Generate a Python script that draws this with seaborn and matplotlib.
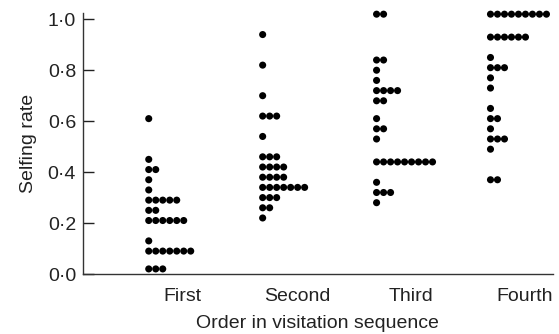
import matplotlib
matplotlib.use("Agg")
import matplotlib.pyplot as plt
import seaborn as sns
import pandas as pd

# selfing rate, one entry per flower
first = [0.61, 0.45, 0.41, 0.41, 0.37, 0.33,
         0.29, 0.29, 0.29, 0.29, 0.29, 0.25, 0.25,
         0.21, 0.21, 0.21, 0.21, 0.21, 0.21, 0.13,
         0.09, 0.09, 0.09, 0.09, 0.09, 0.09, 0.09,
         0.02, 0.02, 0.02]
second = [0.94, 0.82, 0.70, 0.62, 0.62, 0.62, 0.54,
          0.46, 0.46, 0.46, 0.42, 0.42, 0.42, 0.42,
          0.38, 0.38, 0.38, 0.38,
          0.34, 0.34, 0.34, 0.34, 0.34, 0.34, 0.34,
          0.30, 0.30, 0.30, 0.26, 0.26, 0.22]
third = [1.02, 1.02, 0.84, 0.84, 0.80, 0.76,
         0.72, 0.72, 0.72, 0.72, 0.68, 0.68, 0.61, 0.57, 0.57, 0.53,
         0.44, 0.44, 0.44, 0.44, 0.44, 0.44, 0.44, 0.44, 0.44,
         0.36, 0.32, 0.32, 0.32, 0.28]
fourth = [1.02, 1.02, 1.02, 1.02, 1.02, 1.02, 1.02, 1.02, 1.02,
          0.93, 0.93, 0.93, 0.93, 0.93, 0.93,
          0.85, 0.81, 0.81, 0.81, 0.77, 0.73, 0.65, 0.61, 0.61, 0.57,
          0.53, 0.53, 0.53, 0.49, 0.37, 0.37]
groups = ["First", "Second", "Third", "Fourth"]
yticks = [0.0, 0.2, 0.4, 0.6, 0.8, 1.0]

rows = []
for name, vals in zip(groups, [first, second, third, fourth]):
    for v in vals:
        rows.append({"order": name, "rate": v})
df = pd.DataFrame(rows)

# stack tied values side by side, to the right of a common start
dx = 0.0614
df["rank"] = df.groupby(["order", "rate"]).cumcount()
df["xpos"] = df["order"].map({g: i for i, g in enumerate(groups)}) - 0.30 + df["rank"] * dx

sns.set_style("ticks")
plt.rcParams["font.family"] = ["Liberation Sans", "DejaVu Sans"]

fig = plt.figure(figsize=(5.59, 3.34), dpi=100)
ax = fig.add_axes([0.1485, 0.1796, 0.84, 0.781])
sns.scatterplot(data=df, x="xpos", y="rate", color="black", s=26,
                edgecolor="none", ax=ax, clip_on=False, legend=False)

ax.set_xlim(-0.877, 3.245)
ax.set_ylim(0, 1.024)
ax.set_xticks(range(len(groups)))
ax.set_xticklabels(groups)
ax.set_yticks(yticks)
ax.set_yticklabels([f"{t:.1f}".replace(".", "\u00b7") for t in yticks])
ax.tick_params(axis="y", direction="in", length=8, width=1, labelsize=14, pad=5,
               colors="#222222")
ax.tick_params(axis="x", length=0, labelsize=14, pad=10, colors="#222222")
ax.set_xlabel("Order in visitation sequence", fontsize=14, labelpad=7, color="#222222")
ax.set_ylabel("Selfing rate", fontsize=14, labelpad=8, color="#222222")
for side in ["top", "right"]:
    ax.spines[side].set_visible(False)
for side in ["left", "bottom"]:
    ax.spines[side].set_color("#333333")
    ax.spines[side].set_linewidth(1.0)

fig.savefig("out.png", dpi=100)
